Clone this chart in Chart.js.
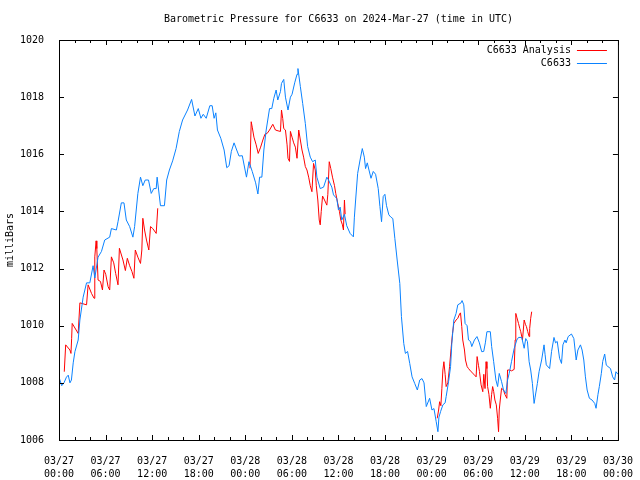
<!DOCTYPE html>
<html lang="en">
<head>
<meta charset="UTF-8">
<title>Barometric Pressure for C6633</title>
<script src="https://cdn.jsdelivr.net/npm/chart.js"></script>
<style>
  html, body { margin: 0; padding: 0; background: #fff; }
  #chart { display: block; }
</style>
</head>
<body>
<canvas id="chart" width="640" height="480"></canvas>
<script>
// hours since 03/27 00:00 UTC, pressure in mb
const titleText = 'Barometric Pressure for C6633 on 2024-Mar-27 (time in UTC)';
const analysisLabel = 'C6633 Analysis';
const obsLabel = 'C6633';

const tickDates = ['03/27', '03/27', '03/27', '03/27', '03/28', '03/28', '03/28', '03/28', '03/29', '03/29', '03/29', '03/29', '03/30'];
const tickTimes = ['00:00', '06:00', '12:00', '18:00', '00:00', '06:00', '12:00', '18:00', '00:00', '06:00', '12:00', '18:00', '00:00'];

const obsHours = [0.0, 0.35, 0.64, 0.96, 1.19, 1.41, 1.6, 1.83, 2.05, 2.47, 2.69, 3.11, 3.55, 3.97, 4.39, 4.61, 5.03, 5.47, 5.89, 6.53,
  6.75, 7.39, 7.6, 8.03, 8.37, 8.67, 9.1, 9.52, 9.74, 10.16, 10.5, 10.8, 11.11, 11.53, 11.88, 12.21, 12.52, 12.64, 13.07, 13.58,
  13.87, 14.22, 14.64, 15.08, 15.5, 15.92, 16.56, 17.08, 17.51, 17.94, 18.28, 18.58, 18.96, 19.43, 19.73, 19.98, 20.2, 20.41, 20.84, 21.27,
  21.61, 21.91, 22.2, 22.55, 22.89, 23.19, 23.61, 24.15, 24.47, 24.89, 25.33, 25.62, 25.84, 26.13, 26.39, 26.69, 27.12, 27.41, 27.67, 27.97,
  28.18, 28.53, 28.66, 28.95, 29.17, 29.5, 29.81, 30.02, 30.36, 30.66, 30.78, 31.09, 31.39, 31.73, 32.03, 32.37, 32.67, 33.01, 33.22, 33.65,
  34.08, 34.5, 34.72, 35.14, 35.36, 35.78, 36.0, 36.22, 36.42, 36.77, 37.06, 37.5, 37.92, 38.05, 38.21, 38.47, 38.78, 39.07, 39.33, 39.49,
  39.71, 39.93, 40.19, 40.48, 40.78, 41.12, 41.34, 41.55, 41.76, 41.98, 42.19, 42.49, 42.75, 43.0, 43.26, 43.56, 43.9, 44.11, 44.41, 44.62,
  44.9, 45.18, 45.48, 45.82, 46.16, 46.47, 46.76, 47.02, 47.31, 47.74, 48.04, 48.3, 48.59, 48.81, 48.94, 49.16, 49.45, 49.74, 49.87, 50.18,
  50.44, 50.6, 50.86, 51.15, 51.37, 51.79, 51.92, 52.14, 52.31, 52.57, 52.75, 53.0, 53.17, 53.51, 53.84, 54.15, 54.45, 54.71, 54.92, 55.12,
  55.56, 55.73, 55.99, 56.28, 56.5, 56.71, 57.01, 57.26, 57.56, 57.78, 57.99, 58.29, 58.63, 58.97, 59.19, 59.61, 59.92, 60.12, 60.34, 60.56,
  60.76, 60.98, 61.2, 61.33, 61.62, 61.84, 62.17, 62.48, 62.61, 62.77, 63.2, 63.45, 63.76, 63.96, 64.18, 64.48, 64.73, 64.91, 65.17, 65.33,
  65.59, 66.01, 66.32, 66.62, 66.84, 67.17, 67.38, 67.6, 67.81, 68.03, 68.32, 68.66, 69.01, 69.18, 69.43, 69.6, 69.86, 70.04, 70.29, 70.5,
  70.72, 71.04, 71.32, 71.57, 71.74, 72.0];
const obsPressure = [1008.2, 1007.9, 1008.0, 1008.2, 1008.27, 1008.0, 1008.1, 1008.7, 1009.09, 1009.5, 1010.2, 1011.0, 1011.5, 1011.5, 1012.1, 1011.67, 1012.4, 1012.6, 1013.0, 1013.1,
  1013.4, 1013.35, 1013.64, 1014.3, 1014.3, 1013.7, 1013.47, 1013.1, 1013.47, 1014.63, 1015.2, 1014.9, 1015.1, 1015.1, 1014.63, 1014.8, 1014.8, 1015.2, 1014.2, 1014.2,
  1015.1, 1015.45, 1015.77, 1016.2, 1016.8, 1017.2, 1017.55, 1017.92, 1017.34, 1017.6, 1017.26, 1017.4, 1017.26, 1017.7, 1017.7, 1017.26, 1017.45, 1016.85, 1016.56, 1016.15,
  1015.53, 1015.6, 1016.1, 1016.4, 1016.15, 1015.94, 1015.95, 1015.2, 1015.74, 1015.4, 1015.0, 1014.61, 1015.2, 1015.2, 1016.15, 1016.85, 1017.6, 1017.6, 1017.96, 1018.25,
  1017.9, 1018.2, 1018.48, 1018.62, 1018.0, 1017.55, 1018.0, 1018.1, 1018.5, 1018.8, 1019.0, 1018.37, 1017.78, 1017.08, 1016.27, 1015.9, 1015.74, 1015.8, 1015.2, 1014.8,
  1014.85, 1015.2, 1015.1, 1014.85, 1014.58, 1014.45, 1014.05, 1014.15, 1013.7, 1013.9, 1013.5, 1013.23, 1013.11, 1013.8, 1014.4, 1015.33, 1015.8, 1016.2, 1015.9, 1015.5,
  1015.7, 1015.45, 1015.16, 1015.4, 1015.3, 1014.8, 1014.17, 1013.64, 1014.52, 1014.6, 1014.2, 1013.88, 1013.8, 1013.75, 1013.06, 1012.3, 1011.48, 1010.32, 1009.38, 1009.03,
  1009.1, 1008.68, 1008.21, 1007.98, 1007.75, 1008.1, 1008.15, 1008.0, 1007.17, 1007.46, 1007.05, 1007.1, 1006.64, 1006.29, 1006.8, 1007.0, 1007.23, 1007.3, 1007.52, 1008.04,
  1008.57, 1009.38, 1010.2, 1010.43, 1010.73, 1010.8, 1010.88, 1010.73, 1010.08, 1010.0, 1009.5, 1009.45, 1009.27, 1009.5, 1009.62, 1009.4, 1009.09, 1009.1, 1009.4, 1009.79,
  1009.79, 1009.27, 1008.74, 1008.1, 1007.87, 1008.33, 1008.04, 1007.75, 1007.63, 1008.1, 1008.33, 1008.74, 1009.2, 1009.5, 1009.59, 1009.59, 1009.21, 1009.55, 1009.45, 1008.74,
  1008.45, 1007.98, 1007.28, 1007.5, 1007.98, 1008.39, 1008.8, 1009.33, 1009.0, 1008.63, 1008.5, 1009.1, 1009.59, 1009.4, 1009.45, 1008.86, 1008.68, 1009.33, 1009.5, 1009.4,
  1009.62, 1009.71, 1009.55, 1008.8, 1009.15, 1009.33, 1009.15, 1008.8, 1008.21, 1007.75, 1007.46, 1007.4, 1007.28, 1007.11, 1007.6, 1007.87, 1008.33, 1008.75, 1009.01, 1008.62,
  1008.57, 1008.5, 1008.21, 1008.1, 1008.39, 1008.3];

// null entries break the line between the three analysis runs
const anaHours = [0.68, 0.86, 1.41, 1.54, 1.63, 1.7, 2.47, 2.69, 3.55, 3.75, 4.19, 4.52, 4.61, 4.78, 4.87, 5.03, 5.34, 5.6, 5.8, 6.02,
  6.32, 6.53, 6.75, 7.05, 7.3, 7.6, 7.78, 8.24, 8.55, 8.8, 9.1, 9.39, 9.65, 9.83, 10.16, 10.5, 10.67, 10.8, 11.02, 11.27,
  11.57, 11.79, 12.08, 12.52, 12.72,
  18,
  24.6, 24.76, 24.89, 25.11, 25.4, 25.66, 25.97, 26.26, 26.52, 26.81, 27.12, 27.54, 27.88, 28.22, 28.53, 28.66, 28.82, 28.95, 29.17, 29.38,
  29.5, 29.69, 29.81, 30.02, 30.23, 30.45, 30.66, 30.88, 31.09, 31.3, 31.51, 31.73, 31.94, 32.16, 32.37, 32.58, 32.79, 33.01, 33.14, 33.34,
  33.52, 33.65, 33.78, 33.95, 34.2, 34.5, 34.63, 34.81, 35.01, 35.23, 35.49, 35.65, 35.91, 36.13, 36.3, 36.51, 36.64, 36.77, 36.86,
  42,
  48.72, 48.9, 49.03, 49.19, 49.32, 49.45, 49.58, 49.74, 49.87, 50.09, 50.31, 50.51, 50.69, 50.86, 51.15, 51.37, 51.6, 51.72, 51.88, 52.01,
  52.23, 52.36, 52.57, 52.75, 53.09, 53.44, 53.73, 53.86, 54.04, 54.16, 54.37, 54.59, 54.72, 54.88, 55.01, 55.12, 55.21, 55.38, 55.56, 55.73,
  55.86, 55.99, 56.15, 56.33, 56.5, 56.62, 56.71, 56.84, 57.01, 57.26, 57.43, 57.69, 57.78, 58.03, 58.29, 58.63, 58.76, 58.84, 58.97, 59.19,
  59.36, 59.48, 59.7, 59.92, 60.08, 60.21, 60.37, 60.56, 60.63, 60.76, 60.89];
const anaPressure = [1008.39, 1009.33, 1009.15, 1009.03, 1009.56, 1010.08, 1009.73, 1010.8, 1010.73, 1011.43, 1011.13, 1010.96, 1012.41, 1012.97, 1012.7, 1011.6, 1011.55, 1011.25, 1011.95, 1011.8,
  1011.37, 1011.25, 1012.41, 1012.2, 1011.83, 1011.43, 1012.71, 1012.3, 1011.93, 1012.36, 1012.1, 1011.9, 1011.66, 1012.65, 1012.4, 1012.18, 1012.65, 1013.76, 1013.35, 1013.0,
  1012.65, 1013.47, 1013.4, 1013.23, 1014.11,
  null,
  1015.51, 1017.14, 1016.95, 1016.6, 1016.33, 1016.03, 1016.25, 1016.5, 1016.7, 1016.73, 1016.85, 1017.05, 1016.85, 1016.82, 1016.8, 1017.55, 1017.25, 1016.9, 1016.85, 1016.33,
  1015.86, 1015.75, 1016.8, 1016.6, 1016.4, 1016.25, 1015.86, 1016.85, 1016.5, 1016.15, 1015.9, 1015.57, 1015.45, 1015.2, 1014.9, 1014.69, 1015.68, 1015.45, 1014.9, 1014.4,
  1013.7, 1013.53, 1014.0, 1014.54, 1014.4, 1014.22, 1014.6, 1015.74, 1015.5, 1015.2, 1014.9, 1014.63, 1014.28, 1013.99, 1013.7, 1013.53, 1013.35, 1014.4, 1013.9,
  null,
  1006.76, 1007.05, 1007.34, 1007.2, 1007.81, 1008.45, 1008.74, 1008.3, 1007.87, 1008.0, 1008.57, 1009.21, 1009.73, 1010.08, 1010.2, 1010.26, 1010.41, 1010.45, 1009.97, 1009.5,
  1009.15, 1008.8, 1008.57, 1008.5, 1008.39, 1008.3, 1008.21, 1008.92, 1008.6, 1008.4, 1007.93, 1007.69, 1008.3, 1007.8, 1008.74, 1008.5, 1007.87, 1007.6, 1007.11, 1007.6,
  1007.87, 1007.7, 1007.4, 1007.23, 1006.76, 1006.29, 1007.05, 1007.4, 1007.81, 1007.75, 1007.6, 1007.46, 1008.45, 1008.45, 1008.42, 1008.47, 1009.5, 1010.43, 1010.3, 1010.08,
  1009.9, 1009.79, 1009.5, 1010.2, 1010.05, 1009.97, 1009.8, 1009.62, 1009.9, 1010.26, 1010.49];

const anaColor = '#ff0000';
const obsColor = '#0a82ff';
const font = "'DejaVu Sans Mono', monospace";

const toPoints = (xs, ys) => xs.map((h, i) => ({ x: h, y: ys[i] }));

// gnuplot-ish frame: box, inward ticks on all four sides, title and key
const gnuFrame = {
  id: 'gnuFrame',
  afterDraw(chart) {
    const { ctx, chartArea: a, scales: { x, y } } = chart;
    ctx.save();
    ctx.strokeStyle = '#000';
    ctx.lineWidth = 1;
    ctx.strokeRect(a.left + 0.5, a.top + 0.5, a.right - a.left, a.bottom - a.top);
    ctx.beginPath();
    for (let h = 0; h <= 72; h += 2) {
      const px = Math.round(x.getPixelForValue(h)) + 0.5;
      const len = h % 6 === 0 ? 5 : 3;
      ctx.moveTo(px, a.bottom); ctx.lineTo(px, a.bottom - len);
      ctx.moveTo(px, a.top); ctx.lineTo(px, a.top + len);
    }
    for (let p = 1006; p <= 1020; p += 2) {
      const py = Math.round(y.getPixelForValue(p)) + 0.5;
      ctx.moveTo(a.left, py); ctx.lineTo(a.left + 5, py);
      ctx.moveTo(a.right, py); ctx.lineTo(a.right - 5, py);
    }
    ctx.stroke();

    ctx.fillStyle = '#000';
    ctx.font = '10px ' + font;
    ctx.textBaseline = 'middle';
    ctx.textAlign = 'center';
    ctx.fillText(titleText, (a.left + a.right) / 2, 19);

    // key, top right
    ctx.textAlign = 'right';
    [[analysisLabel, anaColor], [obsLabel, obsColor]].forEach(([label, color], i) => {
      const ly = a.top + 10 + i * 13;
      ctx.fillStyle = '#000';
      ctx.fillText(label, a.right - 47, ly);
      ctx.strokeStyle = color;
      ctx.beginPath();
      ctx.moveTo(a.right - 41, Math.round(ly) + 0.5);
      ctx.lineTo(a.right - 11, Math.round(ly) + 0.5);
      ctx.stroke();
    });
    ctx.restore();
  }
};

new Chart(document.getElementById('chart'), {
  type: 'line',
  data: {
    datasets: [
      {
        label: obsLabel,
        data: toPoints(obsHours, obsPressure),
        borderColor: obsColor,
        borderWidth: 1,
        pointRadius: 0,
        tension: 0,
        order: 0
      },
      {
        label: analysisLabel,
        data: toPoints(anaHours, anaPressure),
        borderColor: anaColor,
        borderWidth: 1,
        pointRadius: 0,
        tension: 0,
        spanGaps: false,
        order: 1
      }
    ]
  },
  options: {
    responsive: false,
    animation: false,
    devicePixelRatio: 1,
    layout: { padding: { top: 40, right: 19, left: 0, bottom: 0 } },
    plugins: {
      legend: { display: false },
      tooltip: { enabled: false }
    },
    scales: {
      x: {
        type: 'linear',
        min: 0,
        max: 72,
        grid: { display: false },
        border: { display: false },
        afterFit: s => { s.height = 40; },
        ticks: {
          stepSize: 6,
          autoSkip: false,
          maxRotation: 0,
          padding: 7,
          color: '#000',
          font: { family: font, size: 10, lineHeight: 1.3 },
          callback: v => [tickDates[v / 6], tickTimes[v / 6]]
        }
      },
      y: {
        min: 1006,
        max: 1020,
        grid: { display: false },
        border: { display: false },
        afterFit: s => { s.width = 59; },
        title: {
          display: true,
          text: 'milliBars',
          color: '#000',
          font: { family: font, size: 10 }
        },
        ticks: {
          stepSize: 2,
          padding: 7,
          color: '#000',
          font: { family: font, size: 10 },
          callback: v => String(v)
        }
      }
    }
  },
  plugins: [gnuFrame]
});
</script>
</body>
</html>
